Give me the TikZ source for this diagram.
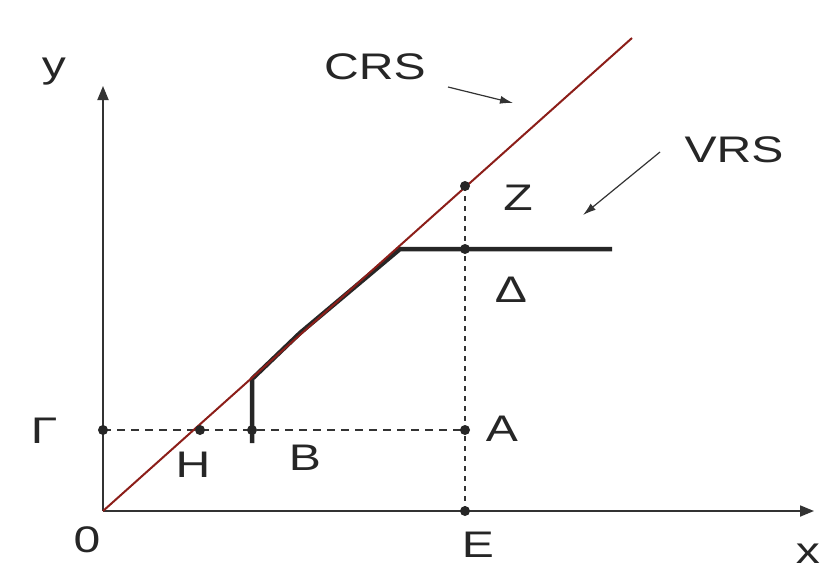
\documentclass[tikz,border=0pt]{standalone}
\usepackage{fontspec}
\setmainfont{Liberation Sans}
\usetikzlibrary{arrows.meta}
\newcommand{\wide}[1]{\scalebox{1.3}[1]{#1}}
\begin{document}
\begin{tikzpicture}[x=1pt,y=-1pt,
  lbl/.style={font=\fontsize{37}{37}\selectfont, text=black!85, inner sep=0pt, anchor=base},
  axis/.style={line width=1.8pt, black!80, -{Triangle[length=14pt,width=11pt]}},
  crs/.style={line width=2pt, color={rgb,255:red,140;green,30;blue,25}},
  vrs/.style={line width=4.5pt, black!85, line join=round},
  guide/.style={line width=1.4pt, black!80, dash pattern=on 8pt off 6pt},
  guidev/.style={line width=1.6pt, black!80, dash pattern=on 5pt off 5pt},
  pointer/.style={line width=1.2pt, black!80, -{Latex[length=13pt,width=8pt]}},
  dot/.style={circle, fill=black!85, inner sep=0pt, minimum size=10pt}]
\useasboundingbox (0,0) rectangle (824,571);
\fill[white] (0,0) rectangle (824,571);
% points
\coordinate (O) at (103,511);
\coordinate (Yend) at (103,86);
\coordinate (Xend) at (814,511);
\coordinate (Ctop) at (632,38);
\coordinate (Gp) at (103,430);
\coordinate (Hp) at (200,430);
\coordinate (Bp) at (252,430);
\coordinate (Ap) at (465,430);
\coordinate (Ep) at (465,511);
\coordinate (Dp) at (465,249);
\coordinate (Zp) at (465,186);
\coordinate (Bbot) at (252,443);
\coordinate (Btop) at (252,379);
\coordinate (Vmid) at (300,333);
\coordinate (Kink) at (400,249);
\coordinate (Vend) at (612,249);
% guides
\draw[guide] (Gp) -- (Ap);
\draw[guidev] (Zp) -- (Ep);
% axes
\draw[axis] (O) -- (Yend);
\draw[axis] (O) -- (Xend);
% VRS
\draw[vrs] (Bbot) -- (Btop) -- (Vmid) -- (Kink) -- (Vend);
% CRS
\draw[crs] (O) -- (Ctop);
% dots
\foreach \p in {Gp,Hp,Bp,Ap,Ep,Dp,Zp} \node[dot] (d\p) at (\p) {};
% labels
\node[lbl] (ly) at (54,77) {\wide{y}};
\node[lbl] (lx) at (808,563) {\wide{x}};
\node[lbl] (lO) at (87,552) {\wide{0}};
\node[lbl] (lE) at (478,557) {\wide{E}};
\node[lbl] (lG) at (44,443) {\wide{Γ}};
\node[lbl] (lH) at (193,477) {\wide{H}};
\node[lbl] (lB) at (305,470) {\wide{B}};
\node[lbl] (lA) at (502,441) {\wide{A}};
\node[lbl] (lZ) at (518,210) {\wide{Z}};
\node[lbl] (lD) at (511,302) {\wide{Δ}};
\node[lbl] (lC) at (375,79) {\wide{CRS}};
\node[lbl] (lV) at (734,162) {\wide{VRS}};
% pointers
\coordinate (c1) at (448,87);
\coordinate (c2) at (513,103);
\coordinate (v1) at (660,152);
\coordinate (v2) at (583,215);
\draw[pointer] (c1) -- (c2);
\draw[pointer] (v1) -- (v2);
\end{tikzpicture}
\end{document}
